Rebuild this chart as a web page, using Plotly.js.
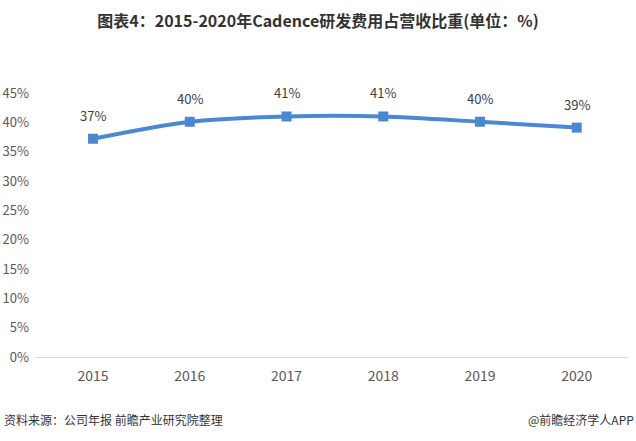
<!DOCTYPE html>
<html>
<head>
<meta charset="utf-8">
<script src="https://cdn.plot.ly/plotly-3.0.1.min.js"></script>
<style>
  html, body { margin: 0; padding: 0; background: #fff; }
  #chart { width: 636px; height: 441px; }
</style>
</head>
<body>
<div id="chart"></div>
<script>
// data
const years = ['2015', '2016', '2017', '2018', '2019', '2020'];
const shares = [37.2, 40.1, 41.0, 41.0, 40.1, 39.1];
const shareLabels = ['37%', '40%', '41%', '41%', '40%', '39%'];
const yTicks = [0, 5, 10, 15, 20, 25, 30, 35, 40, 45];
const yTickText = yTicks.map(v => v + '%');

const font = '"Noto Sans CJK SC", "Liberation Sans", sans-serif';
const lineColor = '#4a88d2';

const trace = {
    x: years,
    y: shares,
    mode: 'lines+markers',
    type: 'scatter',
    line: { color: lineColor, width: 4, shape: 'spline', smoothing: 0.8 },
    marker: { color: lineColor, size: 10, symbol: 'square' },
    cliponaxis: false,
    hoverinfo: 'skip'
};

// value labels sit a bit higher than plotly's 'top center' text
// (category axis annotations use the category index)
const valueLabels = years.map((yr, i) => ({
    x: i, y: shares[i], xref: 'x', yref: 'y',
    text: shareLabels[i],
    showarrow: false,
    yanchor: 'bottom',
    yshift: 12,
    font: { size: 13, color: '#404040', family: font }
}));

const layout = {
    width: 636,
    height: 441,
    margin: { l: 35, r: 8, t: 93, b: 84 },
    paper_bgcolor: '#fff',
    plot_bgcolor: '#fff',
    showlegend: false,
    title: {
        text: '<b>图表4：2015-2020年Cadence研发费用占营收比重(单位：%)</b>',
        font: { size: 16, color: '#333', family: font },
        x: 0.5, xanchor: 'center',
        y: 0.952, yanchor: 'middle'
    },
    xaxis: {
        type: 'category',
        range: [-0.6, 5.53],
        showgrid: false,
        zeroline: false,
        showline: false,
        ticks: '',
        ticklabelstandoff: 9,
        tickfont: { size: 14, color: '#595959', family: font },
        fixedrange: true
    },
    yaxis: {
        range: [0, 45],
        tickvals: yTicks,
        ticktext: yTickText,
        showgrid: false,
        zeroline: true,
        zerolinecolor: '#d9d9d9',
        zerolinewidth: 1,
        showline: false,
        ticks: '',
        ticklabelstandoff: 5,
        tickfont: { size: 13, color: '#595959', family: font },
        fixedrange: true
    },
    annotations: valueLabels.concat([
        {
            text: '资料来源：公司年报 前瞻产业研究院整理',
            xref: 'paper', yref: 'paper',
            x: -0.055, y: -0.235, xanchor: 'left', yanchor: 'middle',
            showarrow: false,
            font: { size: 12, color: '#333', family: font }
        },
        {
            text: '@前瞻经济学人APP',
            xref: 'paper', yref: 'paper',
            x: 1.013, y: -0.235, xanchor: 'right', yanchor: 'middle',
            showarrow: false,
            font: { size: 12, color: '#333', family: font }
        }
    ])
};

Plotly.newPlot('chart', [trace], layout, { displayModeBar: false, staticPlot: true });
</script>
</body>
</html>
